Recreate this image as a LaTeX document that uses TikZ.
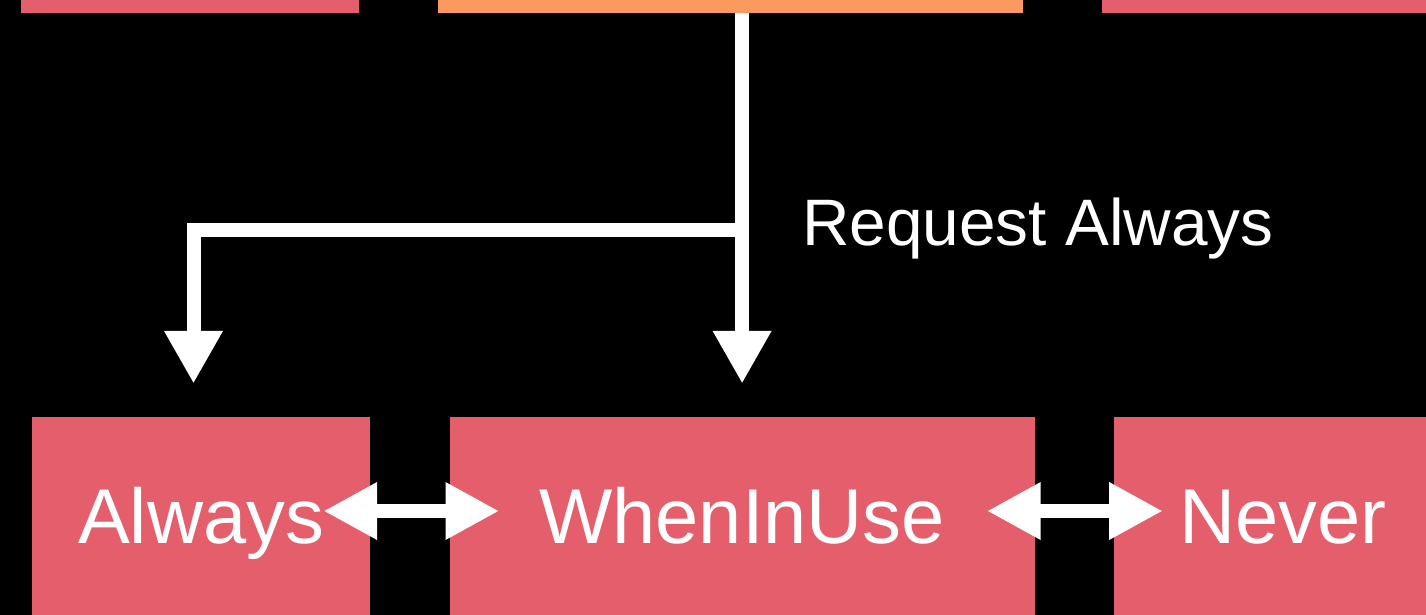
\documentclass[tikz,border=0pt]{standalone}
\usepackage{fontspec}
\setmainfont{Liberation Sans}
\usepackage{xcolor}
\usepackage{tikz}
\usetikzlibrary{arrows.meta,positioning,calc}
\definecolor{permred}{HTML}{E45F6B}
\definecolor{permorange}{HTML}{FB9A5F}

\begin{document}
\begin{tikzpicture}[x=0.02cm,y=-0.02cm,
  perm/.style={fill=permred,inner sep=0pt,minimum height=3.96cm,text=white,text height=31.6pt,text depth=0pt,font=\fontsize{44.2}{50}\selectfont},
  capbox/.style={fill=#1,inner sep=0pt,minimum height=2.26cm},
  flow/.style={draw=white,line width=0.28cm,line join=miter,-{Triangle[width=31.2pt,length=30pt]}},
  swap/.style={draw=white,line width=0.28cm,{Triangle[width=30.6pt,length=30.6pt]}-{Triangle[width=30.6pt,length=30.6pt]}}]
\useasboundingbox (0,0) rectangle (1426,615); \fill[black] (0,0) rectangle (1426,615); \clip (0,0) rectangle (1426,615);
% upper row, cut off by the frame
\node[capbox=permred,minimum width=6.76cm] (topleft) at (190,-43.5) {}; \node[capbox=permorange,minimum width=11.7cm] (topmid) at (730.5,-43.5) {};
\node[capbox=permred,minimum width=6.76cm] (topright) at (1271,-43.5) {};
% authorisation states
\node[perm,minimum width=6.76cm] (always) at (201,516) {Always}; \node[perm,minimum width=11.7cm,right=1.58cm of always] (inuse) {WhenInUse};
\node[perm,minimum width=6.76cm,right=1.58cm of inuse] (never) {Never};
\path (inuse.north) ++(0,-187) coordinate (fork);
\draw[flow] (inuse.north |- topmid.south) -- ($(inuse.north)+(0,-33)$); \draw[flow] (fork) -| ($(always.north)+(-7.5,-33)$);
\node[anchor=base west,inner sep=0pt,text=white,font=\fontsize{37.4}{44}\selectfont] (request) at (802,245) {Request Always};
\draw[swap] ($(always.east)+(-47,-5)$) -- ($(inuse.west)+(50,-5)$); \draw[swap] ($(inuse.east)+(-48,-5)$) -- ($(never.west)+(49,-5)$);
\end{tikzpicture}
\end{document}
